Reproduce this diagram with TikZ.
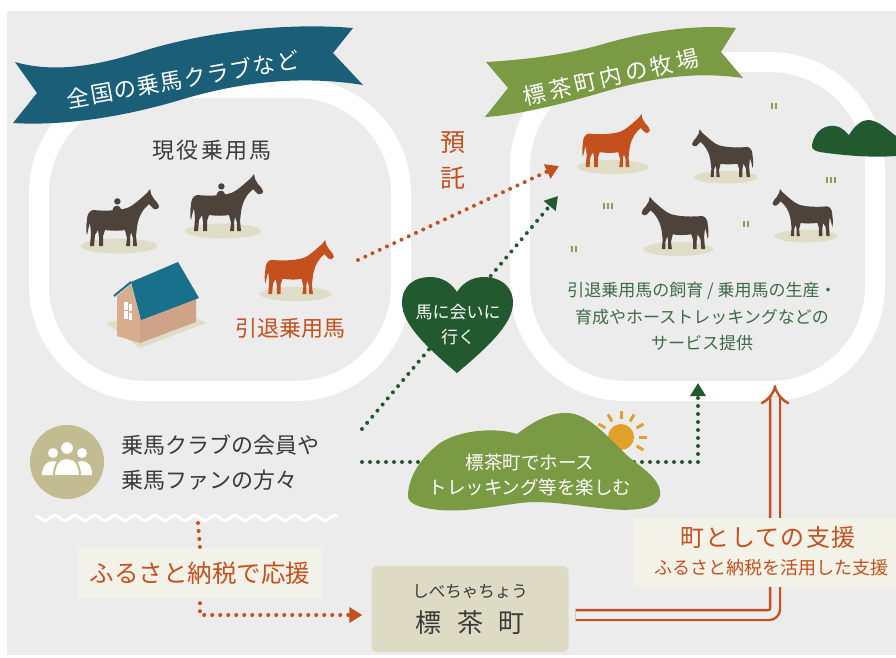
\documentclass[tikz,border=0pt]{standalone}
\usepackage{fontspec}
\setmainfont{Noto Sans CJK JP}
\usetikzlibrary{arrows.meta,positioning}

\definecolor{bggray}{HTML}{ECECEC}
\definecolor{clubblue}{HTML}{1B5E78}
\definecolor{ranchgreen}{HTML}{7A9A44}
\definecolor{darkgreen}{HTML}{22592F}
\definecolor{rust}{HTML}{C4501E}
\definecolor{horsebrown}{HTML}{4E433A}
\definecolor{ground}{HTML}{E0DDC7}
\definecolor{inkgray}{HTML}{3A3A3A}
\definecolor{peoplebg}{HTML}{C2BC90}
\definecolor{townbox}{HTML}{DEDBC4}
\definecolor{notebox}{HTML}{F3F2E8}
\definecolor{servicegreen}{HTML}{3E6B47}
\definecolor{sunyellow}{HTML}{E2A12B}
\definecolor{roofblue}{HTML}{18708C}
\definecolor{wallA}{HTML}{D8AD8F}
\definecolor{wallB}{HTML}{CFA388}
\definecolor{grass}{HTML}{86A24E}

\tikzset{
  txt/.style 2 args={font=\fontsize{#1}{#2}\selectfont},
  loopband/.style={white, line width=20pt, rounded corners=105pt},
  ribbontext/.style={white, txt={22.5}{26}},
  dots/.style={line width=4pt, dash pattern=on 0pt off 8pt, line cap=round},
  tip/.style={-{Triangle[length=13pt,width=15pt]}},
  support/.style={rust, line width=2.4pt, double=bggray, double distance=7.5pt,
    rounded corners=6pt, -{Implies[scale=1.5]}},
  % standing horse, head to the right, origin on the ground
  horse/.pic={
    \fill[ground] (4,-1) ellipse [x radius=38, y radius=7.5];
    \fill (-22,-37) .. controls (-26,-36) and (-28,-32) .. (-28,-27)
      .. controls (-29,-21) and (-29,-15) .. (-28,-12)
      .. controls (-27,-17) and (-26,-21) .. (-25,-24)
      -- (-24,-14) -- (-25,-1) -- (-21,-1) -- (-20,-12) -- (-17,-17)
      -- (-16,-10) -- (-16,-1) -- (-12,-1) -- (-12,-11) -- (-10,-17)
      .. controls (-2,-16) and (5,-16) .. (10,-17)
      -- (12,-9) -- (11,-1) -- (15,-1) -- (15,-10) -- (16,-15)
      -- (18,-9) -- (18,-1) -- (22,-1) -- (21,-11) -- (22,-20)
      .. controls (23,-27) and (25,-33) .. (30,-39)
      -- (34,-43) -- (39,-38)
      .. controls (41,-37) and (43,-38) .. (44,-40)
      .. controls (44,-42) and (42,-45) .. (39,-48)
      -- (36,-53) -- (35,-58) -- (32,-54)
      .. controls (25,-48) and (18,-41) .. (12,-39)
      .. controls (2,-36) and (-12,-36) .. (-22,-37) -- cycle;
  },
  riding/.pic={
    \pic{horse};
    \fill (-3,-38) -- (-3,-47) .. controls (-2,-52) and (4,-53) .. (6,-50)
      -- (9,-45) -- (15,-42) -- (14,-40) -- (7,-42) -- (6,-37)
      -- (4,-27) -- (1,-27) -- (0,-36) -- cycle;
    \fill (3,-57) circle (4);
  },
}

\begin{document}
\begin{tikzpicture}[x=1pt,y=-1pt]
\useasboundingbox (0,0) rectangle (896,657);
\fill[bggray] (7,11) rectangle (896,655);

% the two fenced areas
\draw[loopband] (39,88) rectangle (401,391);
\draw[loopband] (520,62) rectangle (875,391);

% hills behind the ranch
\fill[darkgreen] (812,145) .. controls (815,130) and (825,125) .. (835,126)
  .. controls (843,127) and (846,133) .. (849,135)
  .. controls (855,125) and (862,120) .. (868,120)
  .. controls (878,120) and (888,130) .. (896,136) -- (896,156)
  .. controls (870,158) and (840,155) .. (820,152)
  .. controls (814,151) and (811,148) .. (812,145) -- cycle;

% ribbons
\fill[clubblue] (15,62) .. controls (50,72) and (90,68) .. (140,52)
  .. controls (200,33) and (280,22) .. (353,28) -- (333,53) -- (363,85)
  .. controls (300,75) and (240,82) .. (180,100)
  .. controls (120,118) and (60,126) .. (13,123) -- (37,93) -- cycle;
\node[ribbontext, rotate=10] (clubs) at (183,79)
  {\addfontfeatures{LetterSpace=5}全国の乗馬クラブなど};

\fill[ranchgreen] (486,62) .. controls (520,60) and (560,56) .. (600,45)
  .. controls (640,33) and (690,24) .. (736,28) -- (721,52) -- (743,78)
  .. controls (700,72) and (660,76) .. (610,90)
  .. controls (570,102) and (520,115) .. (485,117) -- (508,88) -- cycle;
\node[ribbontext, rotate=13] (ranch) at (611,77)
  {\addfontfeatures{LetterSpace=16}標茶町内の牧場};

% riding clubs
\node[inkgray, txt={22}{26}] (active) at (212,150)
  {\addfontfeatures{LetterSpace=10}現役乗用馬};
\pic[horsebrown, scale=0.8] at (115,247) {riding};
\pic[horsebrown, scale=0.8] at (219,232) {riding};
\pic[rust, scale=0.95] at (292,295) {horse};

\fill[ground] (106,323) -- (140,348) -- (206,323) -- (172,306) -- cycle;
\fill[wallB] (140,317) -- (196,297) -- (196,322) -- (140,343) -- cycle;
\fill[wallA] (117,296) -- (131,284) -- (140,317) -- (140,343) -- (117,336) -- cycle;
\fill[roofblue] (131,282) -- (178,262) -- (199,298) -- (141,320) -- cycle;
\draw[roofblue, line width=2pt] (114,296) -- (131,282);
\foreach \dx/\dy in {0/0,4.5/1.5,0/9,4.5/10.5}
  \fill[white] (124+\dx,302+\dy) rectangle ++(3.5,7.5);

\node[rust, txt={22}{26}] (retired) at (290,328) {引退乗用馬};

% ranch
\pic[rust, scale=0.93] at (609,168) {horse};
\pic[horsebrown, xscale=-0.84, yscale=0.84] at (729,178) {horse};
\pic[horsebrown, xscale=-0.92, yscale=0.92] at (682,250) {horse};
\pic[horsebrown, xscale=-0.83, yscale=0.83] at (809,237) {horse};
\foreach \gx/\gy/\n in {775/109/2, 832/183/3, 609/209/3, 747/227/2, 575/252/2}
  \foreach \i in {1,...,\n}
    \fill[grass] ({\gx+4*(\i-1)-2*\n},\gy) rectangle ++(2,-6);

\node[servicegreen, txt={17}{26.5}, align=center] (service) at (702,317)
  {引退乗用馬の飼育 / 乗用馬の生産・\\育成やホーストレッキングなどの\\サービス提供};

% deposit arrow
\node[rust, txt={25}{36}, align=center] (deposit) at (453,160) {預\\託};
\coordinate (retire-out) at (358,260);
\coordinate (ranch-in) at (559,166);
\draw[dots, rust, tip] (retire-out) -- (ranch-in);

% fans
\fill[peoplebg] (67,462) circle (37);
\fill[white] (53,453) circle (5) (82,453) circle (5);
\fill[white] (42,475) .. controls (42,466) and (47,461) .. (53,461)
  .. controls (59,461) and (63,466) .. (63,475) -- cycle;
\fill[white] (71,475) .. controls (71,466) and (76,461) .. (82,461)
  .. controls (88,461) and (92,466) .. (92,475) -- cycle;
\filldraw[white, draw=peoplebg, line width=2pt] (67,448) circle (7);
\filldraw[white, draw=peoplebg, line width=2pt] (54,476)
  .. controls (54,463) and (60,458) .. (67,458)
  .. controls (74,458) and (80,463) .. (80,476) -- cycle;

\node[inkgray, txt={22}{35}, align=left, anchor=west] (fans) at (118,462)
  {乗馬クラブの会員や\\乗馬ファンの方々};
\draw[white, line width=3pt, line cap=round]
  plot[domain=36:337, samples=150] (\x,{518+2.5*sin(\x*18)});

% visiting the ranch
\coordinate (fans-up) at (362,429);
\coordinate (ranch-visit) at (558,196);
\draw[dots, darkgreen, tip] (fans-up) -- (ranch-visit);
\fill[darkgreen] (457,373) .. controls (430,350) and (402,325) .. (402,303)
  .. controls (402,285) and (415,277) .. (430,277)
  .. controls (443,277) and (452,284) .. (457,292)
  .. controls (462,284) and (471,277) .. (484,277)
  .. controls (499,277) and (513,285) .. (513,303)
  .. controls (513,325) and (484,350) .. (457,373) -- cycle;
\node[white, txt={17}{25}, align=center] (visit) at (458,325) {馬に会いに\\行く};

% trekking
\coordinate (fans-right) at (362,462);
\coordinate (ranch-trek) at (698,383);
\draw[dots, darkgreen, tip] (fans-right) -| (ranch-trek);
\fill[sunyellow] (621,437) circle (13);
\foreach \a in {30,0,-30,-60,-90,-120,-150}
  \draw[sunyellow, line width=3pt] (621,437) ++(\a:18) -- ++(\a:8);
\fill[ranchgreen] (408,496)
  .. controls (408,478) and (420,458) .. (440,443)
  .. controls (460,430) and (495,427) .. (517,434)
  .. controls (535,420) and (552,412) .. (568,413)
  .. controls (590,414) and (610,440) .. (630,458)
  .. controls (648,472) and (662,482) .. (660,496)
  .. controls (657,510) and (630,512) .. (600,508)
  .. controls (570,505) and (545,500) .. (520,503)
  .. controls (490,507) and (465,512) .. (440,510)
  .. controls (418,508) and (408,503) .. (408,496) -- cycle;
\node[white, txt={18.5}{25}, align=center] (trek) at (530,475)
  {標茶町でホース\\トレッキング等を楽しむ};

% hometown tax
\node[fill=notebox, text=rust, txt={24.5}{28}, minimum width=244pt, minimum height=50pt]
  (furusato) at (200,573) {ふるさと納税で応援};
\coordinate (wave-down) at (198,523);
\draw[dots, rust] (wave-down) -- (furusato.north);

\node[fill=townbox, rounded corners=6pt, minimum width=197pt, minimum height=86pt]
  (town) at (470,609) {};
\node[inkgray, txt={16.5}{20}] (town-kana) at (470,592) {しべちゃちょう};
\node[inkgray, txt={26}{30}] (town-name) at (470,623) {標\hspace{.6em}茶\hspace{.6em}町};
\draw[dots, rust, tip, shorten <=5pt, shorten >=9pt]
  (furusato.south) |- ([yshift=-6pt]town.west);

% support from the town
\coordinate (ranch-aid) at (775,385);
\draw[support, shorten <=7pt] ([yshift=-6pt]town.east) -| (ranch-aid);
\node[fill=notebox, minimum width=263pt, minimum height=69pt] (aid) at (764.5,552.5) {};
\node[rust, txt={24}{28}] (aid-title) at (768,537) {\addfontfeatures{LetterSpace=5}町としての支援};
\node[rust, txt={18}{22}] (aid-note) at (771,568) {ふるさと納税を活用した支援};
\end{tikzpicture}
\end{document}
